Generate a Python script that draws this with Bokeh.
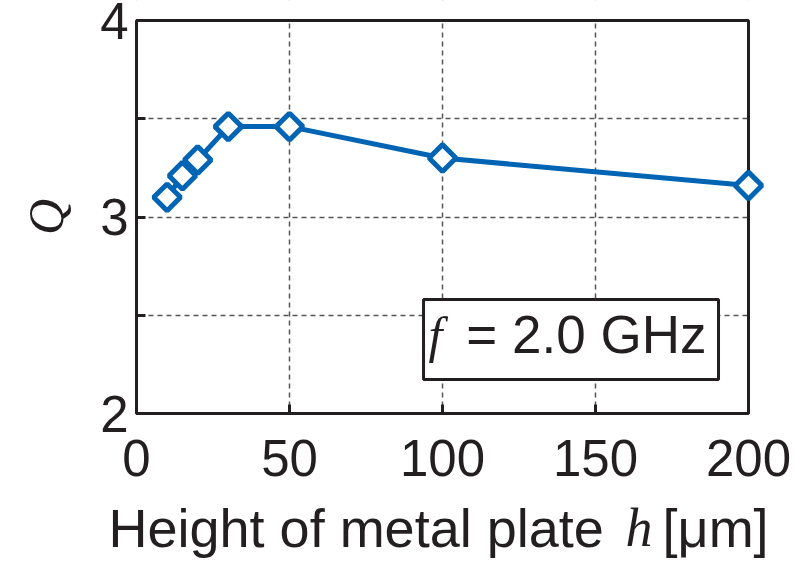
from bokeh.plotting import figure
from bokeh.models import FixedTicker, Label, BoxAnnotation, Range1d
from bokeh.embed import file_html
from bokeh.resources import INLINE
import math

# Data
h_um = [10, 15, 20, 30, 50, 100, 200]
q_val = [3.10, 3.21, 3.29, 3.46, 3.46, 3.30, 3.16]

x_ticks = [0, 50, 100, 150, 200]
y_ticks = [2, 2.5, 3, 3.5, 4]
y_labels = {2: "2", 2.5: "", 3: "3", 3.5: "", 4: "4"}

X_MIN, X_MAX = 0, 200
Y_MIN, Y_MAX = 2, 4

BLUE = "#0064b4"
INK = "#231f20"

# Whole canvas is the frame; axes are placed at fixed locations so that every
# text (including the mixed-font titles) can be drawn without clipping.
W, H = 802, 563
PLOT_L, PLOT_R, PLOT_T, PLOT_B = 136, 748, 20, 413
sx = (PLOT_R - PLOT_L) / (X_MAX - X_MIN)
sy = (PLOT_B - PLOT_T) / (Y_MAX - Y_MIN)
X0, X1 = X_MIN - PLOT_L / sx, X_MAX + (W - PLOT_R) / sx
Y0, Y1 = Y_MIN - (H - PLOT_B) / sy, Y_MAX + PLOT_T / sy

p = figure(width=W, height=H, output_backend="svg", toolbar_location=None, title=None,
           x_range=Range1d(X0, X1), y_range=Range1d(Y0, Y1),
           min_border_left=0, min_border_right=0, min_border_top=0, min_border_bottom=0)

p.outline_line_color = None
p.background_fill_color = "white"
p.border_fill_color = "white"

p.xaxis.fixed_location = Y_MIN
p.yaxis.fixed_location = X_MIN

for ax in (p.xaxis[0], p.yaxis[0]):
    ax.axis_line_color = None
    ax.major_tick_in = 9
    ax.major_tick_out = 0
    ax.major_tick_line_width = 3
    ax.major_tick_line_color = INK
    ax.minor_tick_line_color = None
    ax.major_label_text_font = "Liberation Sans"
    ax.major_label_text_font_size = "51px"
    ax.major_label_text_color = INK

p.xaxis.ticker = FixedTicker(ticks=x_ticks)
p.yaxis.ticker = FixedTicker(ticks=y_ticks)
p.yaxis.major_label_overrides = y_labels
p.xaxis.major_label_standoff = 26
p.yaxis.major_label_standoff = 8

for g in (p.xgrid[0], p.ygrid[0]):
    g.grid_line_color = "#555555"
    g.grid_line_dash = "5 4"
    g.grid_line_dash_offset = 5
    g.grid_line_width = 1.5

# mask grid lines outside the data area, then draw the plot frame (under the glyphs)
PAD = 50
masks = [
    dict(left=X_MAX, right=X1 + PAD, bottom=Y0 - 1, top=Y1 + 1),
    dict(left=X0 - PAD, right=X_MIN, bottom=Y0 - 1, top=Y1 + 1),
    dict(left=X0 - PAD, right=X1 + PAD, bottom=Y0 - 1, top=Y_MIN),
    dict(left=X0 - PAD, right=X1 + PAD, bottom=Y_MAX, top=Y1 + 1),
]
for kw in masks:
    p.add_layout(BoxAnnotation(fill_color="white", fill_alpha=1.0, line_color=None,
                               level="underlay", **kw))
p.add_layout(BoxAnnotation(left=X_MIN, right=X_MAX, bottom=Y_MIN, top=Y_MAX,
                           fill_alpha=0.0, line_color=INK, line_alpha=1.0,
                           line_width=3, level="underlay"))

p.line(h_um, q_val, line_color=BLUE, line_width=5)
p.scatter(h_um, q_val, marker="square", size=19, angle=math.pi / 4,
          line_color=BLUE, line_width=5, fill_color="white")

# annotation box
p.add_layout(BoxAnnotation(left=93.8, right=190.2, bottom=2.173, top=2.58,
                           fill_color="white", fill_alpha=1.0,
                           line_color=INK, line_alpha=1.0, line_width=3))
ANN_Y = 2.40
p.add_layout(Label(x=95.4, y=ANN_Y, text="f", text_font="Liberation Serif",
                   text_font_style="italic", text_font_size="50px",
                   text_color=INK, text_baseline="alphabetic"))
p.add_layout(Label(x=107.8, y=ANN_Y, text="= 2.0 GHz", text_font="Liberation Sans",
                   text_font_size="53px", text_color=INK, text_baseline="alphabetic"))

# y-axis title
p.add_layout(Label(x=-29.7, y=3.0, text="Q", angle=math.pi / 2,
                   text_align="center", text_baseline="middle",
                   text_font="Liberation Serif", text_font_style="italic",
                   text_font_size="50px", text_color=INK))

# x-axis title with italic h
XL_Y = 1.4148
p.add_layout(Label(x=-9.15, y=XL_Y, text="Height of metal plate", text_align="left",
                   text_font="Liberation Sans", text_font_size="54px",
                   text_color=INK, text_baseline="alphabetic"))
p.add_layout(Label(x=159.8, y=XL_Y, text="h", text_font="Liberation Serif",
                   text_font_style="italic", text_font_size="54px",
                   text_color=INK, text_baseline="alphabetic"))
p.add_layout(Label(x=171.9, y=XL_Y, text="[μm]", text_font="Liberation Sans",
                   text_font_size="54px", text_color=INK, text_baseline="alphabetic"))

open("out.html", "w").write(file_html(p, INLINE))
